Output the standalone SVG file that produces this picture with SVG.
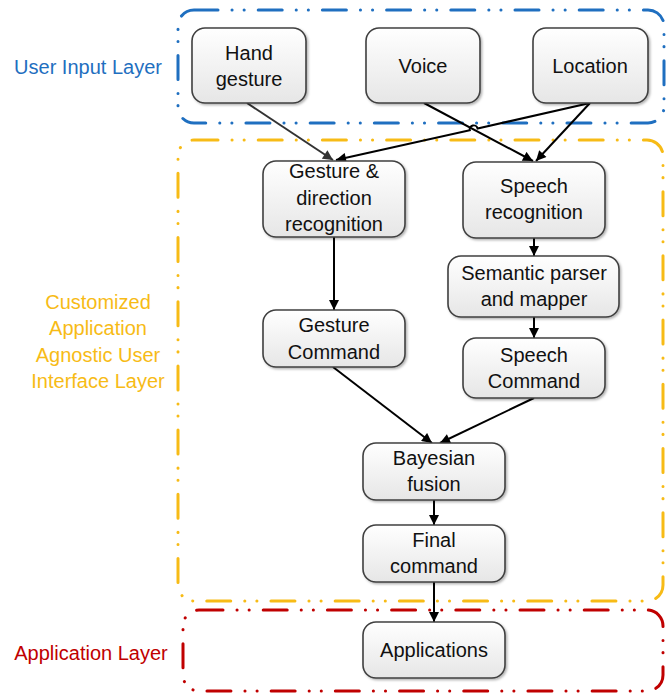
<svg xmlns="http://www.w3.org/2000/svg" width="670" height="694" viewBox="0 0 670 694">
<defs>
<linearGradient id="g" x1="0" y1="0" x2="0" y2="1">
<stop offset="0" stop-color="#ffffff"/>
<stop offset="1" stop-color="#e6e6e6"/>
</linearGradient>
<filter id="sh" x="-10%" y="-10%" width="125%" height="130%">
<feDropShadow dx="1.5" dy="1.5" stdDeviation="1.2" flood-color="#000" flood-opacity="0.3"/>
</filter>
<marker id="ah" viewBox="0 0 10 10" refX="10" refY="5" markerWidth="11" markerHeight="10" markerUnits="userSpaceOnUse" orient="auto">
<path d="M0,0 L10,5 L0,10 z" fill="#000"/>
</marker>
<marker id="ahg" viewBox="0 0 10 10" refX="10" refY="5" markerWidth="11" markerHeight="10" markerUnits="userSpaceOnUse" orient="auto">
<path d="M0,0 L10,5 L0,10 z" fill="#333"/>
</marker>
</defs>
<style>
.layer{fill:none;stroke-width:3;stroke-linecap:round;stroke-dasharray:24 14 0.1 12 0.1 14}
.box rect{fill:url(#g);stroke:#404040;stroke-width:1.6;filter:url(#sh)}
.box text{font-family:"Liberation Sans",Arial,sans-serif;font-size:20px;fill:#111;text-anchor:middle}
.lbl{font-family:"Liberation Sans",Arial,sans-serif;font-size:20px;text-anchor:middle}
.c{fill:none;stroke:#000;stroke-width:2;marker-end:url(#ah)}
</style>
<rect width="670" height="694" fill="#fff"/>

<g id="layers">
<rect class="layer" x="178" y="10" width="486" height="113" rx="16" stroke="#1f6fc0"/>
<rect class="layer" x="178" y="140" width="485" height="461" rx="16" stroke="#f7bb16"/>
<rect class="layer" x="183" y="610" width="480" height="81" rx="16" stroke="#c00000"/>
</g>

<g id="labels">
<text class="lbl" x="88" y="74" fill="#1f6fc0">User Input Layer</text>
<text class="lbl" x="98" y="309" fill="#f7bb16">Customized</text>
<text class="lbl" x="98" y="335" fill="#f7bb16">Application</text>
<text class="lbl" x="98" y="362" fill="#f7bb16">Agnostic User</text>
<text class="lbl" x="98" y="388" fill="#f7bb16">Interface Layer</text>
<text class="lbl" x="91" y="660" fill="#c00000">Application Layer</text>
</g>

<g id="connectors">
<path class="c" d="M247,103 L333,160" style="stroke:#333;marker-end:url(#ahg)"/>
<path class="c" d="M424,103 L533,161"/>
<path class="c" d="M590,103 L477.6,128.5 A4,4 0 0 0 469.8,130.3 L336,160"/>
<path class="c" d="M590,103 L536,161"/>
<path class="c" d="M334,237 L334,310"/>
<path class="c" d="M534,238 L534,256"/>
<path class="c" d="M534,317 L534,338"/>
<path class="c" d="M333,367 L432,443"/>
<path class="c" d="M534,398 L440,443"/>
<path class="c" d="M434,500 L434,525"/>
<path class="c" d="M434,582 L434,622"/>
</g>

<g id="hand" class="box"><rect x="192" y="28" width="114" height="75" rx="13"/><text x="249" y="60">Hand</text><text x="249" y="86">gesture</text></g>
<g id="voice" class="box"><rect x="366" y="28" width="114" height="75" rx="13"/><text x="423" y="73">Voice</text></g>
<g id="location" class="box"><rect x="533" y="28" width="115" height="75" rx="13"/><text x="590" y="73">Location</text></g>
<g id="gesture-rec" class="box"><rect x="263" y="161" width="142" height="76" rx="13"/><text x="334" y="178">Gesture &amp;</text><text x="334" y="205">direction</text><text x="334" y="231">recognition</text></g>
<g id="speech-rec" class="box"><rect x="463" y="162" width="142" height="76" rx="13"/><text x="534" y="193">Speech</text><text x="534" y="219">recognition</text></g>
<g id="semantic" class="box"><rect x="448" y="256" width="171" height="61" rx="13"/><text x="534" y="280">Semantic parser</text><text x="534" y="306">and mapper</text></g>
<g id="gesture-cmd" class="box"><rect x="263" y="310" width="142" height="57" rx="13"/><text x="334" y="332">Gesture</text><text x="334" y="359">Command</text></g>
<g id="speech-cmd" class="box"><rect x="463" y="338" width="142" height="60" rx="13"/><text x="534" y="362">Speech</text><text x="534" y="388">Command</text></g>
<g id="bayesian" class="box"><rect x="363" y="443" width="142" height="57" rx="13"/><text x="434" y="465">Bayesian</text><text x="434" y="491">fusion</text></g>
<g id="final" class="box"><rect x="363" y="525" width="142" height="57" rx="13"/><text x="434" y="547">Final</text><text x="434" y="573">command</text></g>
<g id="applications" class="box"><rect x="363" y="622" width="142" height="56" rx="13"/><text x="434" y="657">Applications</text></g>
</svg>
